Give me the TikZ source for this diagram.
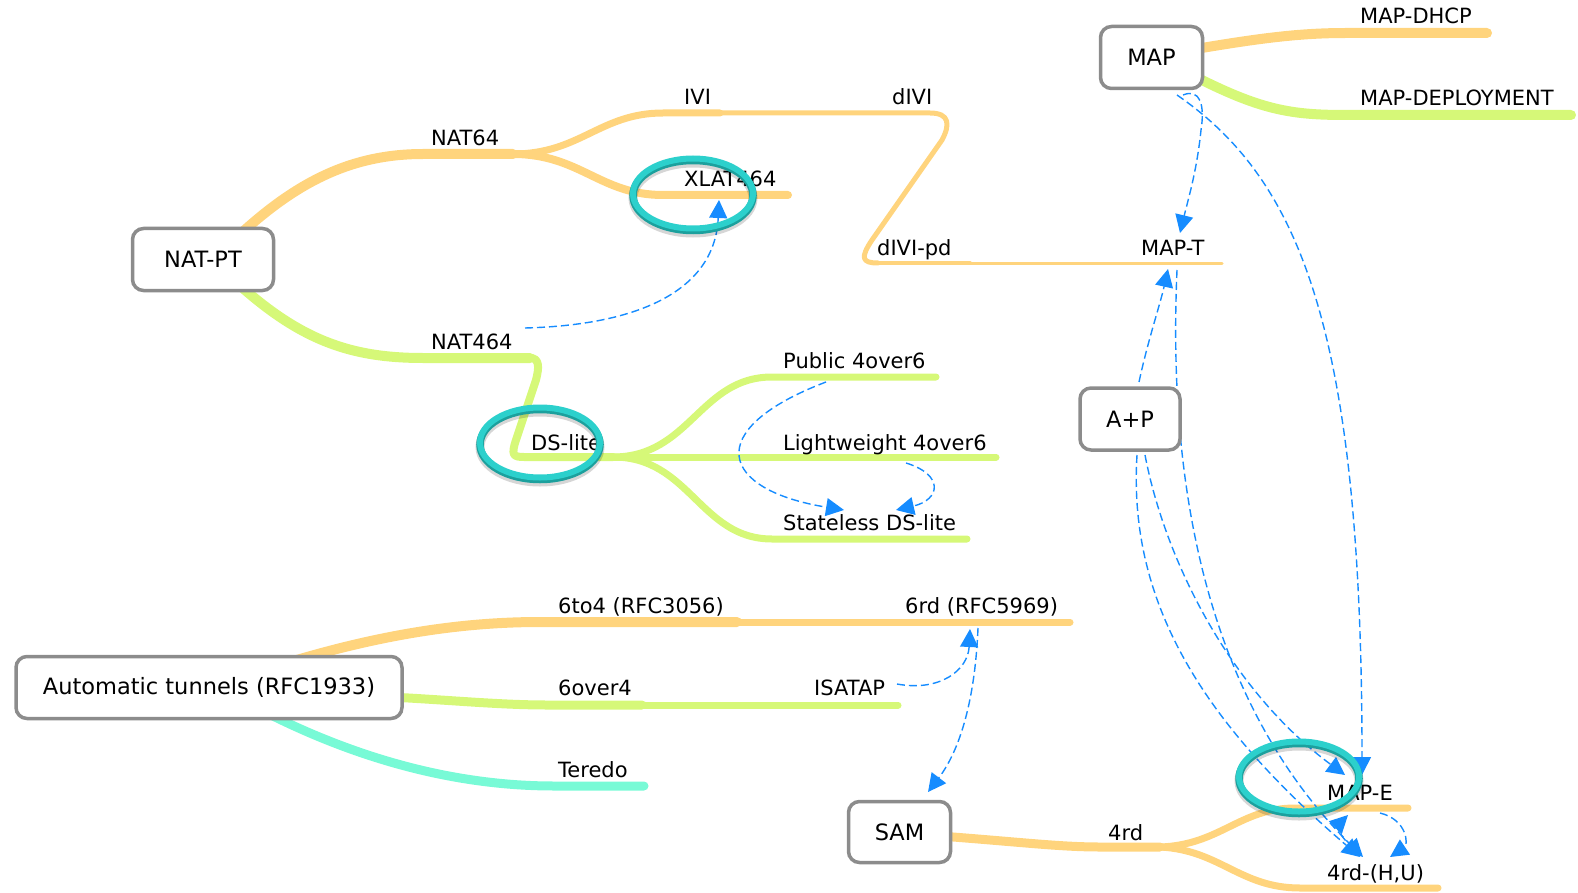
\documentclass[tikz,border=0pt]{standalone}
\usepackage{fontspec}
\setmainfont{DejaVu Sans}
\usetikzlibrary{arrows.meta}
\definecolor{orangeL}{RGB}{255,212,125}
\definecolor{greenL}{RGB}{214,248,120}
\definecolor{teredoC}{RGB}{120,250,214}
\definecolor{ringC}{RGB}{44,208,204}
\definecolor{ringD}{RGB}{28,160,157}
\definecolor{boxB}{RGB}{140,140,140}
\definecolor{arrowblue}{RGB}{22,140,255}
\begin{document}
\begin{tikzpicture}[x=1pt,y=-1pt,
  br/.style={line cap=round, line join=round},
  lbl/.style={anchor=base west, inner sep=0pt, font=\fontsize{21}{25}\selectfont},
  box/.style={draw=boxB, line width=3.5pt, fill=white, rounded corners=11pt, inner sep=0pt, font=\fontsize{22.5}{27}\selectfont},
  dep/.style={draw=arrowblue, line width=1.4pt, dash pattern=on 8pt off 4pt, -{Triangle[length=18pt,width=18pt]}},
  ringshadow/.style={draw=black, opacity=0.16, line width=9pt},
  ringdark/.style={draw=ringD, line width=7.5pt},
  ringlight/.style={draw=ringC, line width=6pt}]
\useasboundingbox (0,0) rectangle (1578,893);

% ---------- junction coordinates ----------
\coordinate (jnat64) at (513,154);
\coordinate (jivi) at (720,113);
\coordinate (jdivipd) at (878,263);
\coordinate (jmapt) at (970,263);
\coordinate (jnat464) at (530,358);
\coordinate (jds) at (613,457);
\coordinate (j6to4) at (737,622);
\coordinate (j6over4) at (642,705);
\coordinate (j4rd) at (1160,847);

% ---------- NAT-PT branches ----------
\draw[br, orangeL, line width=10pt] (236,238) .. controls (295,183) and (350,154) .. (423,154) -- (jnat64);
\draw[br, orangeL, line width=7pt] (jnat64) .. controls (580,154) and (600,113) .. (663,113) -- (jivi);
\draw[br, orangeL, line width=5pt] (jivi) -- (930,113) .. controls (950,113) and (950,125) .. (942,140) -- (872,240) .. controls (860,258) and (862,263) .. (jdivipd);
\draw[br, orangeL, line width=4pt] (jdivipd) -- (jmapt);
\draw[br, orangeL, line width=3pt] (jmapt) -- (1222,263);
\draw[br, orangeL, line width=8pt] (jnat64) .. controls (580,154) and (600,195) .. (663,195) -- (788,195);
\draw[br, greenL, line width=10pt] (236,282) .. controls (300,340) and (350,358) .. (423,358) -- (jnat464);
\draw[br, greenL, line width=8pt] (jnat464) .. controls (540,358) and (539,368) .. (536,380) -- (516,440) .. controls (511,455) and (513,457) .. (524,457) -- (jds);
\draw[br, greenL, line width=7pt] (jds) .. controls (690,457) and (700,377) .. (772,377) -- (936,377);
\draw[br, greenL, line width=7pt] (jds) -- (996,457);
\draw[br, greenL, line width=7pt] (jds) .. controls (690,457) and (700,539) .. (772,539) -- (967,539);

% ---------- MAP branches ----------
\draw[br, orangeL, line width=10pt] (1190,50) .. controls (1260,38) and (1300,33) .. (1346,33) -- (1487,33);
\draw[br, greenL, line width=10pt] (1190,74) .. controls (1260,110) and (1290,115) .. (1346,115) -- (1571,115);

% ---------- Automatic tunnels branches ----------
\draw[br, orangeL, line width=10pt] (290,662) .. controls (380,635) and (460,622) .. (540,622) -- (j6to4);
\draw[br, orangeL, line width=7pt] (j6to4) -- (1070,622);
\draw[br, greenL, line width=9pt] (390,697) .. controls (450,700) and (500,705) .. (547,705) -- (j6over4);
\draw[br, greenL, line width=7pt] (j6over4) -- (898,705);
\draw[br, teredoC, line width=9pt] (265,712) .. controls (340,750) and (440,786) .. (554,786) -- (644,786);

% ---------- SAM branches ----------
\draw[br, orangeL, line width=9pt] (940,836) .. controls (1020,842) and (1060,847) .. (1100,847) -- (j4rd);
\draw[br, orangeL, line width=7pt] (j4rd) .. controls (1220,845) and (1240,808) .. (1295,808) -- (1408,808);
\draw[br, orangeL, line width=7pt] (j4rd) .. controls (1220,850) and (1240,888) .. (1300,888) -- (1438,888);

% ---------- labels ----------
\node[lbl] (nat64) at (431,146) {NAT64};
\node[lbl] (ivi) at (684,105) {IVI};
\node[lbl] (xlat) at (684,187) {XLAT464};
\node[lbl] (nat464) at (431,349) {NAT464};
\node[lbl] (dslite) at (531,450) {DS-lite};
\node[lbl] (pub) at (783,368) {Public 4over6};
\node[lbl] (lw) at (783,450) {Lightweight 4over6};
\node[lbl] (sds) at (783,530) {Stateless DS-lite};
\node[lbl] (divi) at (892,105) {dIVI};
\node[lbl] (divipd) at (877,255) {dIVI-pd};
\node[lbl] (mapt) at (1141,255) {MAP-T};
\node[lbl] (mapdhcp) at (1360,24) {MAP-DHCP};
\node[lbl] (mapdep) at (1360,106) {MAP-DEPLOYMENT};
\node[lbl] (sixtofour) at (558,613) {6to4 (RFC3056)};
\node[lbl] (sixrd) at (905,613) {6rd (RFC5969)};
\node[lbl] (sixover) at (558,695) {6over4};
\node[lbl] (isatap) at (814,695) {ISATAP};
\node[lbl] (teredo) at (558,777) {Teredo};
\node[lbl] (fourrd) at (1108,840) {4rd};
\node[lbl] (mape) at (1327,800) {MAP-E};
\node[lbl] (fourhu) at (1327,880) {4rd-(H,U)};

% ---------- dashed relation arrows ----------
\coordinate (a1s) at (525,328);   \coordinate (a1e) at (719,200);
\draw[dep] (a1s) .. controls (640,325) and (715,290) .. (a1e);
\coordinate (a2s) at (826,382);   \coordinate (a2e) at (844,510);
\draw[dep] (a2s) .. controls (700,430) and (720,490) .. (a2e);
\coordinate (a3s) at (906,463);   \coordinate (a3e) at (896,510);
\draw[dep] (a3s) .. controls (945,475) and (940,500) .. (a3e);
\coordinate (a4s) at (1183,95);   \coordinate (a4e) at (1180,233);
\draw[dep] (a4s) .. controls (1200,88) and (1205,105) .. (1201,130) .. controls (1197,170) and (1188,200) .. (a4e);
\coordinate (a5s) at (1177,95);   \coordinate (a5e) at (1362,775);
\draw[dep] (a5s) .. controls (1300,180) and (1362,330) .. (a5e);
\coordinate (a6s) at (1139,382);  \coordinate (a6e) at (1168,269);
\draw[dep] (a6s) .. controls (1148,340) and (1160,305) .. (a6e);
\coordinate (a7s) at (1177,270);  \coordinate (a7e) at (1363,857);
\draw[dep] (a7s) .. controls (1170,430) and (1185,680) .. (a7e);
\coordinate (a8s) at (1145,455);  \coordinate (a8e) at (1345,775);
\draw[dep] (a8s) .. controls (1165,560) and (1230,690) .. (a8e);
\coordinate (a9s) at (1137,455);  \coordinate (a9e) at (1360,857);
\draw[dep] (a9s) .. controls (1128,600) and (1200,720) .. (a9e);
\coordinate (a10s) at (1355,848); \coordinate (a10e) at (1348,815);
\draw[dep] (a10s) .. controls (1340,840) and (1338,825) .. (a10e);
\coordinate (a11s) at (1380,813); \coordinate (a11e) at (1390,857);
\draw[dep] (a11s) .. controls (1408,820) and (1408,845) .. (a11e);
\coordinate (a12s) at (897,684);  \coordinate (a12e) at (970,629);
\draw[dep] (a12s) .. controls (940,692) and (968,670) .. (a12e);
\coordinate (a13s) at (978,628);  \coordinate (a13e) at (928,792);
\draw[dep] (a13s) .. controls (975,700) and (960,750) .. (a13e);

% ---------- boxes ----------
\node[box, minimum width=141pt, minimum height=62pt] (natpt) at (203,259.5) {NAT-PT};
\node[box, minimum width=102pt, minimum height=62pt] (map) at (1151.5,57.5) {MAP};
\node[box, minimum width=100pt, minimum height=62pt] (ap) at (1130,419) {A+P};
\node[box, minimum width=386pt, minimum height=62pt] (auto) at (209,687.5) {Automatic tunnels (RFC1933)};
\node[box, minimum width=102pt, minimum height=61pt] (sam) at (899.5,832) {SAM};

% ---------- highlight rings ----------
\foreach \cx/\cy in {693/194, 540/443, 1299/777}{
  \draw[ringshadow] (\cx,\cy+4) ellipse [x radius=60pt, y radius=35pt];
  \draw[ringdark] (\cx,\cy+1.5) ellipse [x radius=60pt, y radius=35pt];
  \draw[ringlight] (\cx,\cy-0.5) ellipse [x radius=60pt, y radius=35pt];
}
\end{tikzpicture}
\end{document}
